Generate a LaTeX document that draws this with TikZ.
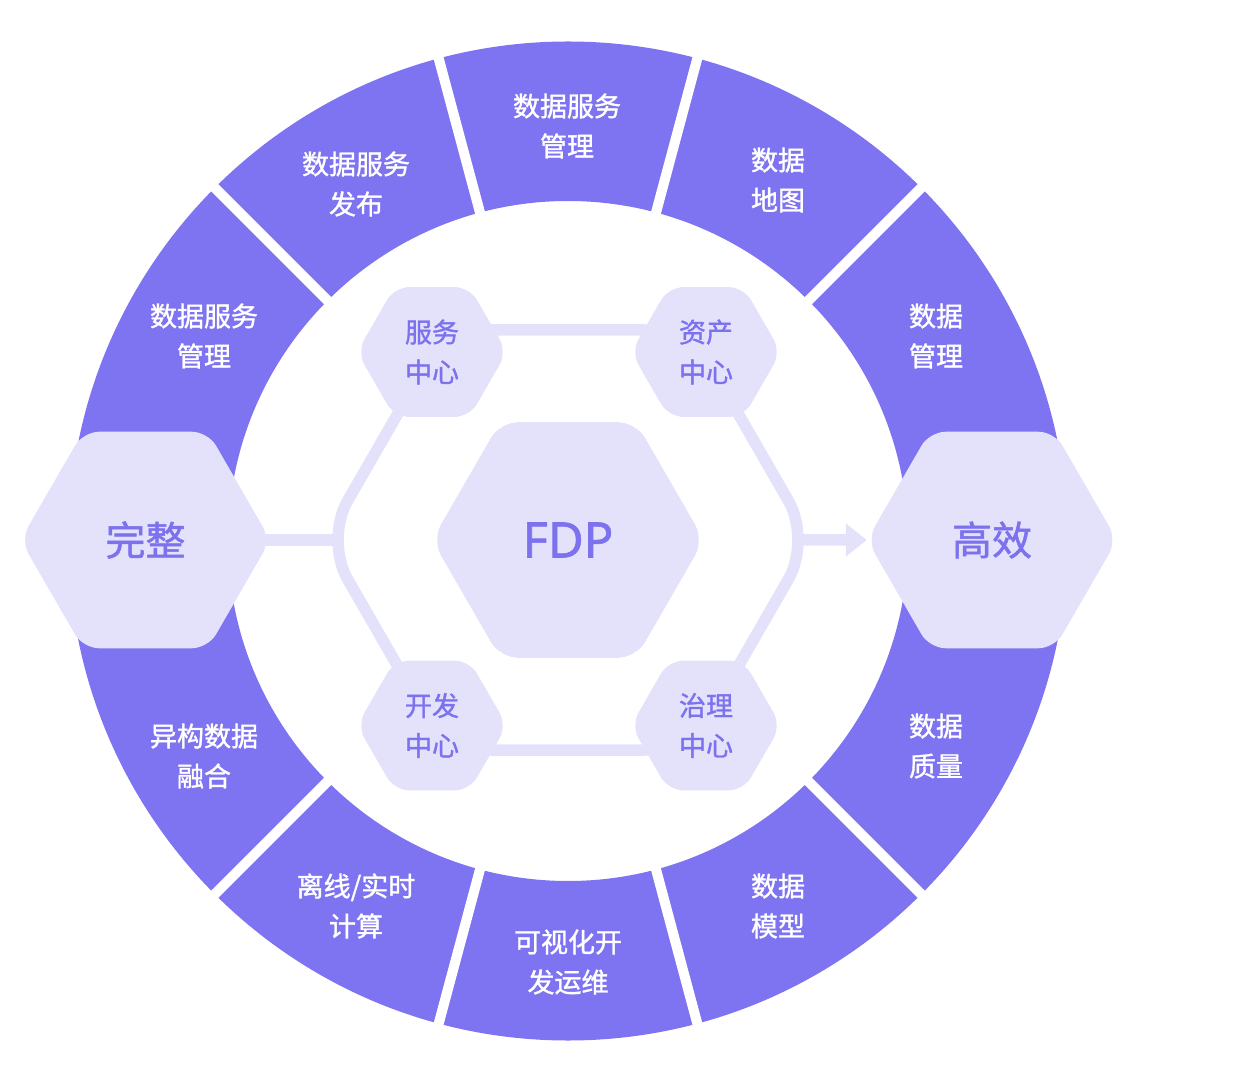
\documentclass[tikz,border=0pt]{standalone}
\usepackage{fontspec}
\setmainfont{Noto Sans CJK SC}[FakeBold=1.3]
\newfontfamily\latinfont{Noto Sans}[FakeBold=1.3]
\usetikzlibrary{shapes.geometric,arrows.meta,calc}
\definecolor{ringc}{RGB}{126,115,240}
\definecolor{lav}{RGB}{228,226,251}
\definecolor{hexc}{RGB}{124,114,238}
\pgfdeclarelayer{ringlayer}
\pgfdeclarelayer{links}
\pgfsetlayers{ringlayer,links,main}
\tikzset{
  hexa/.style={regular polygon, regular polygon sides=6, fill=lav, inner sep=0pt, draw=none, text=hexc, align=center},
  bighex/.style={hexa, minimum size=250pt, rounded corners=16pt, font=\fontsize{40}{48}\selectfont},
  corehex/.style={hexa, minimum size=272pt, rounded corners=18pt, font=\latinfont\fontsize{49}{56}\selectfont},
  smallhex/.style={hexa, minimum size=150pt, rounded corners=15pt, font=\fontsize{27}{40}\selectfont},
  seglabel/.style={text=white, align=center, font=\fontsize{27}{40}\selectfont, inner sep=0pt},
  link/.style={draw=lav, line width=11.5pt},
  gapline/.style={draw=white, line width=10pt},
}
\begin{document}
\begin{tikzpicture}[x=1pt,y=1pt]
\useasboundingbox (0,0) rectangle (1260,1080);
\coordinate (C) at (568,539);
\begin{pgfonlayer}{ringlayer}
  \fill[ringc, even odd rule] (C) circle[radius=499.5] (C) circle[radius=340];
  \foreach \a in {45,75,105,135,225,255,285,315}
    \draw[gapline] ($(C)+(\a:330)$) -- ($(C)+(\a:512)$);
\end{pgfonlayer}

% ring labels
\node[seglabel] (l1) at (567,954) {数据服务\\管理};
\node[seglabel] (l2) at (778,900) {数据\\地图};
\node[seglabel] (l3) at (936,744) {数据\\管理};
\node[seglabel] (l4) at (936,334) {数据\\质量};
\node[seglabel] (l5) at (778,174) {数据\\模型};
\node[seglabel] (l6) at (568,118) {可视化开\\发运维};
\node[seglabel] (l7) at (356,174) {离线/实时\\计算};
\node[seglabel] (l8) at (204,324) {异构数据\\融合};
\node[seglabel] (l9) at (204,744) {数据服务\\管理};
\node[seglabel] (l10) at (356,896) {数据服务\\发布};

% hexagons
\node[bighex] (wz) at (145.5,540) {完整};
\node[bighex] (gx) at (992,540) {高效};
\node[corehex] (fdp) at (568,540) {FDP};
\node[smallhex] (fw) at (432,728) {服务\\中心};
\node[smallhex] (zc) at (706,728) {资产\\中心};
\node[smallhex] (kf) at (432,354.5) {开发\\中心};
\node[smallhex] (zl) at (706,354.5) {治理\\中心};

% loop
\coordinate (pT) at (568,750);
\coordinate (pTR) at (690,750);
\coordinate (pR) at (811,540);
\coordinate (pBR) at (690,330);
\coordinate (pBL) at (446,330);
\coordinate (pL) at (325,540);
\coordinate (pTL) at (446,750);
\coordinate (loopL) at (336.5,540);
\coordinate (loopR) at (799.5,540);
\begin{pgfonlayer}{links}
  \draw[link, rounded corners=45pt] (pT) -- (pTR) -- (pR) -- (pBR) -- (pBL) -- (pL) -- (pTL) -- cycle;
  \draw[link] (wz.center) -- (loopL);
  \draw[link, -{Triangle[length=21pt,width=32pt]}] (loopR) -- (gx.west);
\end{pgfonlayer}
\end{tikzpicture}
\end{document}
